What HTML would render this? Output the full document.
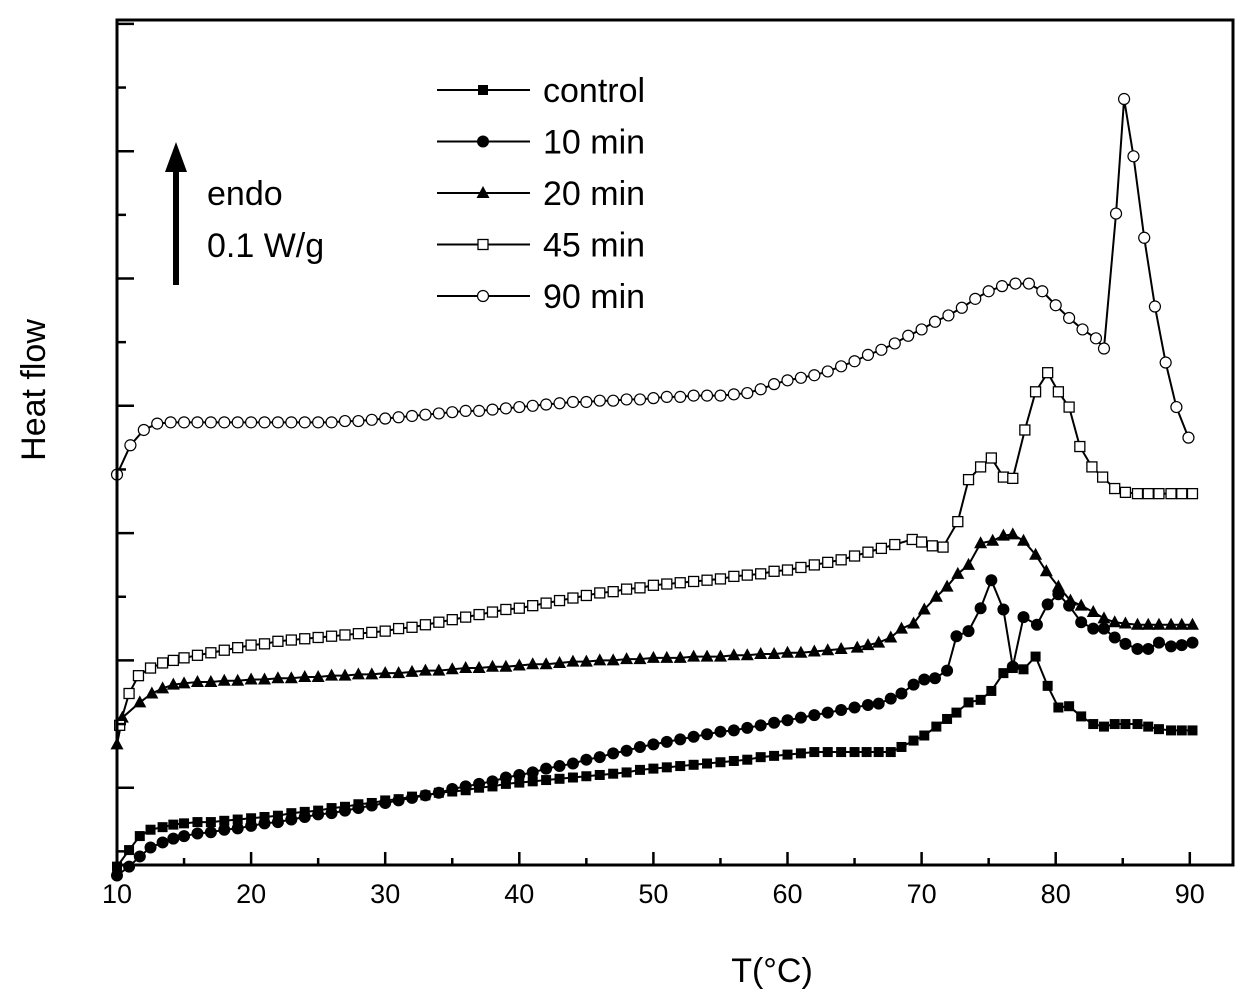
<!DOCTYPE html>
<html><head><meta charset="utf-8"><style>
html,body{margin:0;padding:0;background:#fff;}
svg{display:block;font-family:"Liberation Sans",sans-serif;}
</style></head><body>
<svg id="chart" width="1251" height="1000" viewBox="0 0 1251 1000" xmlns="http://www.w3.org/2000/svg">
<rect x="0" y="0" width="1251" height="1000" fill="#fff"/>
<g id="marks"></g>
<rect x="117" y="20" width="1116" height="845" fill="none" stroke="#000" stroke-width="3"/>
<g id="axes"></g>
<text x="772" y="982" font-size="34" text-anchor="middle">T(°C)</text>
<text transform="translate(45,390) rotate(-90)" font-size="34" text-anchor="middle">Heat flow</text>
<g>
<line x1="176" y1="285" x2="176" y2="170" stroke="#000" stroke-width="6"/>
<polygon points="165,172 187,172 176,142" fill="#000"/>
</g>
<text x="207" y="205" font-size="34">endo</text>
<text x="207" y="257" font-size="34">0.1 W/g</text>
<g id="legend"></g>
</svg>
<script>
const xTicks = [10,20,30,40,50,60,70,80,90];
const seriesNames = ["control","10 min","20 min","45 min","90 min"];
const control = [[10,0.38],[10.9,0.51],[11.7,0.62],[12.5,0.67],[13.4,0.69],[14.2,0.71],[15,0.72],[16,0.73],[17,0.73],[18,0.74],[19,0.75],[20,0.76],[21,0.77],[22,0.78],[23,0.8],[24,0.81],[25,0.82],[26,0.84],[27,0.85],[28,0.87],[29,0.88],[30,0.9],[31,0.91],[32,0.93],[33,0.94],[34,0.96],[35,0.97],[36,0.98],[37,1.0],[38,1.01],[39,1.03],[40,1.04],[41,1.05],[42,1.06],[43,1.07],[44,1.08],[45,1.09],[46,1.1],[47,1.11],[48,1.12],[49,1.14],[50,1.15],[51,1.16],[52,1.17],[53,1.18],[54,1.19],[55,1.2],[56,1.21],[57,1.22],[58,1.24],[59,1.25],[60,1.26],[61,1.27],[62,1.28],[63,1.28],[64,1.28],[65,1.28],[65.9,1.28],[66.8,1.28],[67.7,1.28],[68.5,1.32],[69.4,1.37],[70.2,1.41],[71.1,1.48],[71.9,1.54],[72.6,1.59],[73.5,1.67],[74.4,1.69],[75.2,1.76],[76.1,1.9],[76.8,1.94],[77.6,1.93],[78.5,2.03],[79.4,1.8],[80.2,1.63],[81,1.64],[81.9,1.56],[82.8,1.5],[83.6,1.48],[84.4,1.5],[85.2,1.5],[86.1,1.5],[86.9,1.48],[87.7,1.46],[88.6,1.45],[89.4,1.45],[90.2,1.45]];
const min10 = [[10,0.31],[10.9,0.38],[11.7,0.46],[12.5,0.53],[13.4,0.57],[14.2,0.6],[15,0.62],[16,0.64],[17,0.65],[18,0.67],[19,0.68],[20,0.7],[21,0.72],[22,0.73],[23,0.75],[24,0.77],[25,0.79],[26,0.8],[27,0.82],[28,0.84],[29,0.86],[30,0.88],[31,0.9],[32,0.92],[33,0.94],[34,0.96],[35,0.99],[36,1.01],[37,1.03],[38,1.05],[39,1.08],[40,1.1],[41,1.12],[42,1.15],[43,1.17],[44,1.19],[45,1.22],[46,1.24],[47,1.27],[48,1.29],[49,1.32],[50,1.34],[51,1.36],[52,1.38],[53,1.4],[54,1.42],[55,1.44],[56,1.45],[57,1.47],[58,1.49],[59,1.51],[60,1.53],[61,1.55],[62,1.57],[63,1.59],[64,1.61],[65,1.63],[66,1.65],[66.8,1.66],[67.7,1.7],[68.5,1.74],[69.4,1.81],[70.2,1.85],[71,1.86],[71.9,1.92],[72.6,2.19],[73.5,2.23],[74.4,2.41],[75.2,2.63],[76.1,2.4],[76.8,1.95],[77.6,2.34],[78.6,2.28],[79.4,2.44],[80.2,2.52],[81,2.43],[81.9,2.3],[82.8,2.25],[83.6,2.25],[84.4,2.18],[85.2,2.13],[86.1,2.09],[86.9,2.09],[87.7,2.14],[88.6,2.11],[89.4,2.12],[90.2,2.14]];
const min20 = [[10,1.34],[10.4,1.55],[11.7,1.67],[12.6,1.74],[13.4,1.78],[14.2,1.81],[15,1.82],[16,1.83],[17,1.83],[18,1.84],[19,1.84],[20,1.85],[21,1.85],[22,1.86],[23,1.86],[24,1.87],[25,1.87],[26,1.88],[27,1.88],[28,1.89],[29,1.89],[30,1.9],[31,1.9],[32,1.91],[33,1.92],[34,1.92],[35,1.93],[36,1.94],[37,1.94],[38,1.95],[39,1.95],[40,1.96],[41,1.97],[42,1.97],[43,1.98],[44,1.99],[45,1.99],[46,2.0],[47,2.0],[48,2.01],[49,2.01],[50,2.02],[51,2.02],[52,2.02],[53,2.03],[54,2.03],[55,2.03],[56,2.04],[57,2.04],[58,2.05],[59,2.05],[60,2.06],[61,2.06],[62,2.07],[63,2.08],[64,2.09],[65.2,2.1],[66,2.12],[66.8,2.14],[67.7,2.18],[68.5,2.25],[69.4,2.29],[70.2,2.4],[71.1,2.5],[71.9,2.58],[72.7,2.68],[73.5,2.75],[74.4,2.92],[75.3,2.94],[76.1,2.98],[76.8,2.99],[77.6,2.94],[78.5,2.83],[79.3,2.7],[80.2,2.58],[81.1,2.47],[81.9,2.43],[82.8,2.38],[83.6,2.33],[84.4,2.3],[85.2,2.29],[86.1,2.28],[86.9,2.28],[87.7,2.28],[88.6,2.28],[89.4,2.28],[90.2,2.28]];
const min45 = [[10.2,1.49],[10.9,1.74],[11.6,1.88],[12.5,1.94],[13.4,1.98],[14.2,2.0],[15,2.02],[16,2.04],[17,2.06],[18,2.08],[19,2.1],[20,2.12],[21,2.13],[22,2.15],[23,2.16],[24,2.17],[25,2.18],[26,2.19],[27,2.2],[28,2.21],[29,2.22],[30,2.23],[31,2.25],[32,2.26],[33,2.28],[34,2.3],[35,2.32],[36,2.34],[37,2.36],[38,2.38],[39,2.4],[40,2.41],[41,2.43],[42,2.45],[43,2.47],[44,2.49],[45,2.51],[46,2.53],[47,2.54],[48,2.56],[49,2.57],[50,2.59],[51,2.6],[52,2.61],[53,2.62],[54,2.63],[55,2.64],[56,2.66],[57,2.67],[58,2.68],[59,2.7],[60,2.71],[61,2.73],[62,2.75],[63,2.77],[64,2.79],[65,2.82],[66,2.85],[67,2.88],[68,2.91],[69.3,2.95],[70,2.93],[70.8,2.9],[71.6,2.89],[72.7,3.09],[73.5,3.42],[74.4,3.52],[75.2,3.59],[76.1,3.44],[76.8,3.43],[77.7,3.81],[78.5,4.11],[79.4,4.26],[80.2,4.11],[81,3.99],[81.8,3.68],[82.7,3.52],[83.5,3.44],[84.4,3.35],[85.2,3.32],[86.1,3.31],[86.9,3.31],[87.7,3.31],[88.6,3.31],[89.4,3.31],[90.2,3.31]];
const min90 = [[10,3.46],[11,3.69],[12,3.81],[13,3.86],[14,3.87],[15,3.87],[16,3.87],[17,3.87],[18,3.87],[19,3.87],[20,3.87],[21,3.87],[22,3.87],[23,3.87],[24,3.87],[25,3.87],[26,3.87],[27,3.88],[28,3.88],[29,3.89],[30,3.9],[31,3.91],[32,3.92],[33,3.93],[34,3.94],[35,3.95],[36,3.96],[37,3.96],[38,3.97],[39,3.98],[40,3.99],[41,4.0],[42,4.01],[43,4.02],[44,4.03],[45,4.03],[46,4.04],[47,4.04],[48,4.05],[49,4.05],[50,4.06],[51,4.07],[52,4.07],[53,4.08],[54,4.08],[55,4.08],[56,4.09],[57,4.1],[58,4.13],[59,4.17],[60,4.2],[61,4.22],[62,4.24],[63,4.27],[64,4.31],[65,4.35],[66,4.4],[67,4.44],[68,4.49],[69,4.55],[70,4.6],[71,4.66],[72,4.71],[73,4.77],[74,4.84],[75,4.9],[76,4.94],[77,4.96],[78,4.96],[79,4.9],[80,4.79],[81,4.69],[82,4.6],[83,4.53],[83.6,4.45],[84.5,5.51],[85.1,6.41],[85.8,5.96],[86.6,5.32],[87.4,4.78],[88.2,4.34],[89,3.99],[89.9,3.75]];

const NS = "http://www.w3.org/2000/svg";
function xs(t){ return 117 + (t - 10) * 13.41; }
function ys(v){ return 915 - v * 127.3; }
function mk(tag, attrs, parent){ const e = document.createElementNS(NS, tag); for (const k in attrs) e.setAttribute(k, attrs[k]); parent.appendChild(e); return e; }

const axes = document.getElementById('axes');
for (let t = 10; t <= 90; t += 5) {
  const major = t % 10 === 0;
  const tk = mk('line', {x1: xs(t), x2: xs(t), y1: 865, y2: major ? 852 : 858, stroke: '#000', 'stroke-width': 2.5}, axes);
  
  
}
xTicks.forEach(t => {
  const lb = mk('text', {x: xs(t), y: 903, 'font-size': 27, 'text-anchor': 'middle'}, axes);
  lb.textContent = t;
  
  
});
for (let v = 0.5; v <= 7; v += 0.5) {
  const major = Math.abs(v - Math.round(v)) < 1e-6;
  const tk = mk('line', {x1: 117, x2: major ? 134 : 126, y1: ys(v), y2: ys(v), stroke: '#000', 'stroke-width': 2.5}, axes);
  
  
}

function marker(type, x, y, parent){
  let e;
  if (type === 'sq') e = mk('rect', {x: x-5, y: y-5, width: 10, height: 10, fill: '#000'}, parent);
  else if (type === 'ci') e = mk('circle', {cx: x, cy: y, r: 6, fill: '#000'}, parent);
  else if (type === 'tr') e = mk('polygon', {points: `${x},${y-7} ${x+6.5},${y+5} ${x-6.5},${y+5}`, fill: '#000'}, parent);
  else if (type === 'osq') e = mk('rect', {x: x-5, y: y-5, width: 10, height: 10, fill: '#fff', stroke: '#000', 'stroke-width': 1.3}, parent);
  else e = mk('circle', {cx: x, cy: y, r: 5.5, fill: '#fff', stroke: '#000', 'stroke-width': 1.2}, parent);
  return e;
}

const marks = document.getElementById('marks');
const allSeries = [control, min10, min20, min45, min90];
const types = ['sq','ci','tr','osq','oci'];
allSeries.forEach((s, i) => {
  const g = mk('g', {}, marks);
  
  
  const pl = mk('polyline', {points: s.map(p => xs(p[0]) + ',' + ys(p[1])).join(' '), fill: 'none', stroke: '#000', 'stroke-width': 2}, g);
  
  
  s.forEach(p => {
    const m = marker(types[i], xs(p[0]), ys(p[1]), g);
    
    
  });
});

const legend = document.getElementById('legend');
seriesNames.forEach((n, i) => {
  const y = 90 + i * 51.5;
  const g = mk('g', {}, legend);
  
  
  mk('line', {x1: 437, x2: 530, y1: y, y2: y, stroke: '#000', 'stroke-width': 2}, g);
  marker(types[i], 483, y, g);
  const t = mk('text', {x: 543, y: y + 12, 'font-size': 34}, g);
  t.textContent = n;
});
</script>
</body></html>
